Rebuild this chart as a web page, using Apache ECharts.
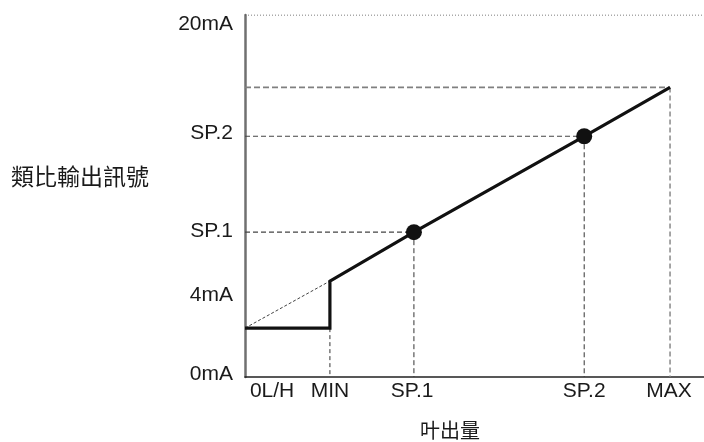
<!DOCTYPE html>
<html><head><meta charset="utf-8">
<script src="https://cdn.jsdelivr.net/npm/echarts@6/dist/echarts.min.js"></script>
<style>html,body{margin:0;padding:0;background:#fff}#c{width:704px;height:442px}</style>
</head><body><div id="c"></div>
<script>
// ---- data ----
const xTickNames = ['0L/H', 'MIN', 'SP.1', 'SP.2', 'MAX'];
const xTickPos   = [5.9, 18.5, 36.4, 73.9, 92.4];
const yTickNames = ['0mA', '4mA', 'SP.1', 'SP.2', '20mA'];
const yTickPos   = [0.17, 4.53, 8.04, 13.48, 19.48];
// output curve (input % vs output mA)
const inputX  = [0, 18.5, 18.5, 36.8, 73.9, 92.6];
const outputY = [2.7, 2.7, 5.3, 8.0, 13.3, 16.0];
// set points (dots)
const setPointX = [36.8, 73.9];
const setPointY = [8.0, 13.3];
// dashed extrapolation below MIN
const extrapX = [0, 18.5];
const extrapY = [2.7, 5.3];
const xMax = 100, yMax = 20;
const xAxisTitle = '叶出量';
const yAxisTitle = '類比輸出訊號';

const FONT = '"Liberation Sans", Arial, "Noto Sans CJK TC", sans-serif';
const CJK = '"Noto Sans CJK TC", "Noto Sans CJK SC", sans-serif';

const curve = inputX.map((x, i) => [x, outputY[i]]);
const guides = [];
// vertical guide at MIN
guides.push({ d: [[inputX[1], outputY[1]], [inputX[1], 0]], c: '#333', w: 1, t: [4, 3] });
// SP.1, SP.2, MAX guides: horizontal from y-axis then vertical to x-axis
[3, 4, 5].forEach(i => {
  const x = inputX[i], y = outputY[i];
  const isMax = i === 5;
  guides.push({ d: [[0, y], [x, y]], c: isMax ? '#808080' : '#444', w: isMax ? 1.6 : 1.2, t: isMax ? [6, 3] : [5, 3] });
  guides.push({ d: [[x, y], [x, 0]], c: isMax ? '#808080' : '#333', w: isMax ? 1.4 : 1, t: [5, 3] });
});

const series = [];
guides.forEach(g => series.push({
  type: 'line', data: g.d, symbol: 'none', silent: true, z: 2,
  lineStyle: { color: g.c, width: g.w, type: g.t }
}));
series.push({
  type: 'line', data: extrapX.map((x, i) => [x, extrapY[i]]), symbol: 'none', silent: true, z: 2,
  lineStyle: { color: '#444', width: 1, type: [3, 2] }
});
// top dotted boundary at 20mA
series.push({
  type: 'line', data: [[0, yMax], [xMax, yMax]], symbol: 'none', silent: true, z: 2,
  lineStyle: { color: '#555', width: 1, type: [1, 2] }
});
series.push({
  type: 'line', data: curve, symbol: 'none', silent: true, z: 5,
  lineStyle: { color: '#111', width: 3.2, join: 'miter' }
});
series.push({
  type: 'scatter', data: setPointX.map((x, i) => [x, setPointY[i]]), symbol: 'circle', symbolSize: 16,
  silent: true, z: 6, itemStyle: { color: '#111', opacity: 1 }
});
// tick labels
series.push({
  type: 'scatter', silent: true, symbolSize: 0, z: 7, itemStyle: { opacity: 1 },
  data: yTickNames.map((n, i) => ({ value: [0, yTickPos[i]], name: n })),
  label: { show: true, position: 'left', distance: 12, formatter: p => p.name,
           color: '#1a1a1a', fontSize: 21, fontFamily: FONT }
});
series.push({
  type: 'scatter', silent: true, symbolSize: 0, z: 7, itemStyle: { opacity: 1 },
  data: xTickNames.map((n, i) => ({ value: [xTickPos[i], 0], name: n })),
  label: { show: true, position: 'bottom', distance: 4, formatter: p => p.name,
           color: '#1a1a1a', fontSize: 21, fontFamily: FONT }
});

const chart = echarts.init(document.getElementById('c'), null, { renderer: 'canvas' });
chart.setOption({
  animation: false,
  backgroundColor: '#fff',
  grid: { left: 245, right: 0, top: 15, bottom: 65, containLabel: false },
  xAxis: {
    type: 'value', min: 0, max: xMax,
    axisLine: { show: true, onZero: false, lineStyle: { color: '#222', width: 1.5 } },
    axisTick: { show: false }, axisLabel: { show: false }, splitLine: { show: false }
  },
  yAxis: {
    type: 'value', min: 0, max: yMax,
    axisLine: { show: true, onZero: false, lineStyle: { color: '#707070', width: 2.5 } },
    axisTick: { show: false }, axisLabel: { show: false }, splitLine: { show: false }
  },
  graphic: [
    { type: 'text', left: 11, top: 165, style: { text: yAxisTitle, fontSize: 23, fontFamily: CJK, fill: '#1a1a1a' } },
    { type: 'text', left: 420, top: 420, style: { text: xAxisTitle, fontSize: 20, fontFamily: CJK, fill: '#1a1a1a' } }
  ],
  series
});
</script></body></html>
